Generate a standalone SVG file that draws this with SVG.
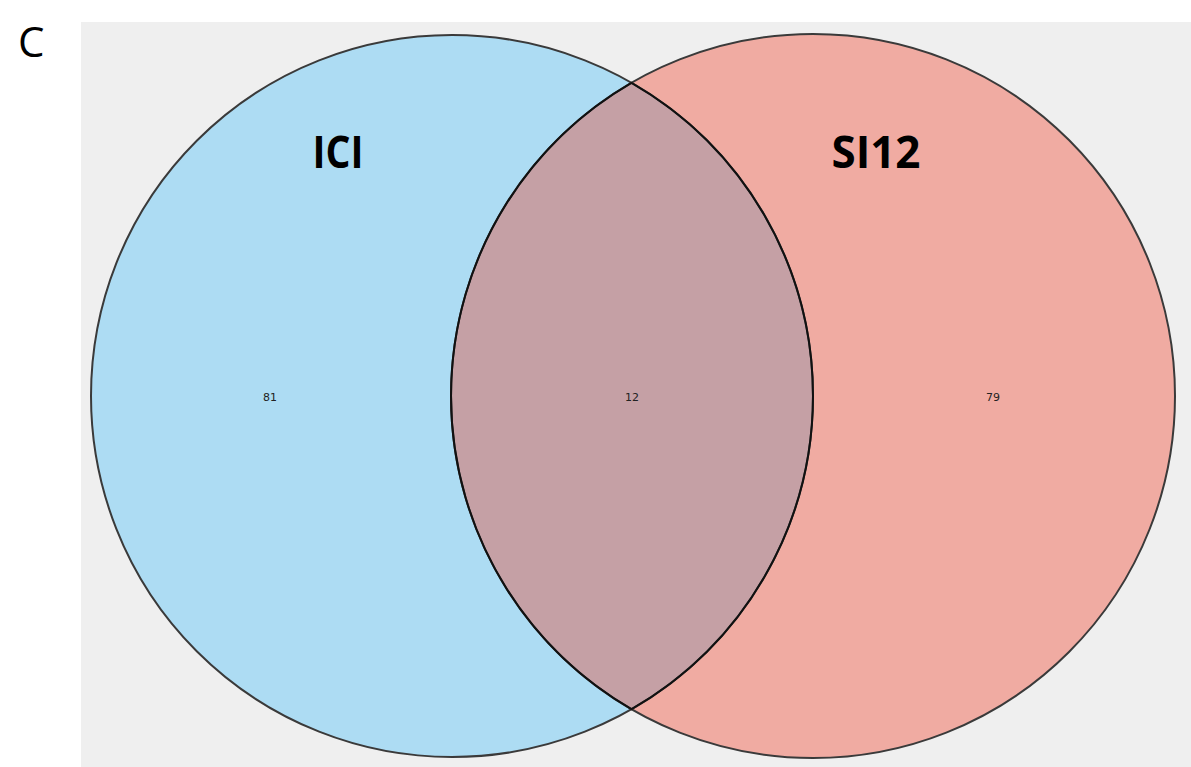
<svg xmlns="http://www.w3.org/2000/svg" width="1191" height="767" viewBox="0 0 1191 767">
<style>
.lbl{font-family:"Open Sans","Liberation Sans",sans-serif;font-weight:bold;font-size:45px;fill:#000}
.num{font-family:"DejaVu Sans","Liberation Sans",sans-serif;font-size:11px;fill:#222}
.outer{fill:none;stroke:#3a3a3a;stroke-width:2}
</style>
<rect x="0" y="0" width="1191" height="767" fill="#ffffff"/>
<text x="18" y="57" font-family="Open Sans, Liberation Sans, sans-serif" font-size="42" fill="#000">C</text>
<rect x="81" y="22" width="1110" height="745" fill="#efefef"/>
<g id="set-ici">
<circle cx="452" cy="396" r="361" fill="#addcf3"/>
</g>
<g id="set-si12">
<circle cx="813" cy="396" r="362" fill="#f0aba2"/>
</g>
<g id="overlap">
<path d="M631.5,82.8 A361,361 0 0 1 631.5,709.2 A362,362 0 0 1 631.5,82.8 Z" fill="#c5a0a5"/>
</g>
<g id="connectors">
<circle class="outer" cx="452" cy="396" r="361"/>
<circle class="outer" cx="813" cy="396" r="362"/>
<path d="M631.5,82.8 A361,361 0 0 1 631.5,709.2 A362,362 0 0 1 631.5,82.8 Z" fill="none" stroke="#111" stroke-width="2"/>
</g>
<text class="lbl" x="338" y="168" text-anchor="middle" textLength="51" lengthAdjust="spacingAndGlyphs">ICI</text>
<text class="lbl" x="876" y="168" text-anchor="middle" textLength="89" lengthAdjust="spacingAndGlyphs">SI12</text>
<text class="num" x="270" y="401" text-anchor="middle">81</text>
<text class="num" x="632" y="401" text-anchor="middle">12</text>
<text class="num" x="993" y="401" text-anchor="middle">79</text>
</svg>
